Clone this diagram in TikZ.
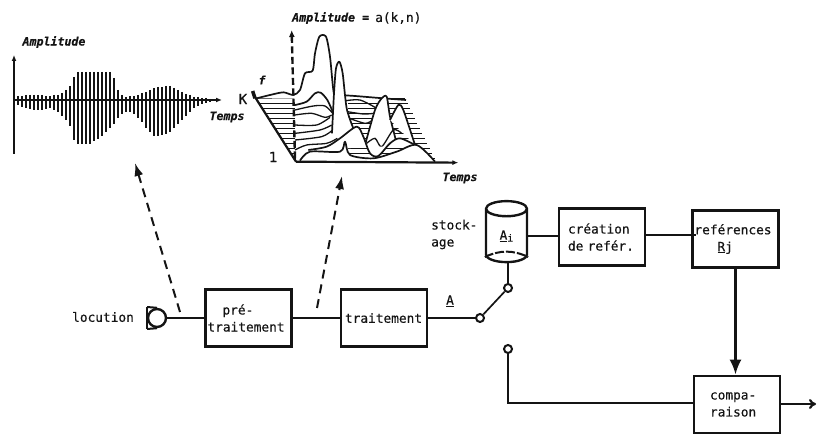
\documentclass[tikz,border=0pt]{standalone}
\usepackage{fontspec}
\setmainfont{DejaVu Sans Mono}[FakeBold=0.4]
\usetikzlibrary{shapes.geometric,arrows.meta}
\tikzset{
  wire/.style={line width=2.2pt,draw=ink},
  blk/.style={draw=ink,line width=2.6pt,inner xsep=0pt,inner ysep=0pt,text width=#1,minimum height=57pt,align=left,text=ink,font=\fontsize{12.8}{17}\selectfont},
  blk/.default=86pt,
  lab/.style={text=ink,inner sep=0pt,font=\fontsize{12.8}{17}\selectfont,align=left},
  tag/.style={text=ink,inner sep=0pt,font=\fontsize{11.6}{13}\selectfont\bfseries\itshape},
  contact/.style={circle,draw=ink,fill=white,line width=2pt,inner sep=0pt,minimum size=8pt},
  dasharrow/.style={draw=ink,line width=2pt,dash pattern=on 9pt off 6pt,-{Latex[length=13pt,width=9pt]}},
  axisline/.style={draw=ink,line width=1.8pt,-{Latex[length=6pt,width=5pt]}},
  prof/.style={draw=ink,line width=1.7pt,fill=white,line join=round},
  rowline/.style={draw=ink,line width=1.3pt},
  hatch/.style={draw=ink,line width=1.2pt}
}
\definecolor{ink}{gray}{0.08}
\begin{document}
\begin{tikzpicture}[x=1pt,y=-1pt]
\useasboundingbox (0,0) rectangle (817,435);
% ---- waveform
\draw[axisline] (14,154) -- (14,55);
\draw[axisline] (14,100) -- (222,100);
\foreach \x/\t/\b in {18/96/105,22/96/107,26/95/108,30/95/109,34/95/110,38/95/110,42/95/110,46/96/109,50/96/108,54/95/110,58/95/112,62/93/116,66/90/120,70/86/126,74/77/140,78/72/144,82/72/144,86/72/144,90/72/144,94/72/141,98/72/139,102/72/136,106/72/132,110/72/128,114/78/124,118/90/118,122/95/114,126/97/112,130/96/112,134/96/114,138/95/118,142/93/122,146/92/128,150/90/132,154/88/136,158/87/136,162/87/135,166/86/134,170/86/132,174/88/128,178/90/124,182/92/120,186/94/116,190/95/112,194/97/108,198/97/106,202/98/104,206/98/103,210/99/102}
  \draw[draw=ink,line width=1.8pt] (\x,\t) -- (\x,\b);
% ---- 3D plot (coordinates in thirds of a pixel)
\begin{scope}[shift={(250,30)},scale=1/3]
  \foreach \yy in {205,220,...,385} {
    \pgfmathsetmacro{\xl}{8+(\yy-190)*0.644}
    \pgfmathsetmacro{\xr}{468+(\yy-210)*0.49}
    \draw[hatch] (\xl,\yy) -- (135,\yy);
    \draw[hatch] (295,\yy) -- (\xr,\yy);
  }
  \draw[prof] plot[smooth,tension=.45] coordinates {(20,205)(60,195)(100,187)(130,195)(150,180)(165,130)(188,122)(195,70)(208,20)(228,20)(240,80)(250,180)(262,240)(280,200)(300,197)(400,205)(468,210)};
  \draw[prof] plot[smooth,tension=.5] coordinates {(135,225)(170,215)(195,190)(212,188)(232,210)(248,245)};
  \draw[rowline] plot[smooth,tension=.5] coordinates {(135,240)(190,228)(225,228)(248,250)};
  \draw[rowline] plot[smooth,tension=.5] coordinates {(135,255)(185,250)(225,262)(245,255)};
  \draw[rowline] plot[smooth,tension=.5] coordinates {(135,285)(200,285)(240,262)};
  \draw[rowline] plot[smooth,tension=.5] coordinates {(135,310)(210,300)(245,285)};
  \draw[rowline] plot[smooth,tension=.5] coordinates {(135,330)(215,320)(248,300)};
  \draw[prof] plot[smooth,tension=.45] coordinates {(246,310)(252,190)(258,115)(268,95)(278,130)(290,235)(310,295)};
  \draw[rowline] plot[smooth,tension=.5] coordinates {(288,212)(330,210)(375,232)};
  \draw[rowline] plot[smooth,tension=.5] coordinates {(292,245)(340,252)(372,250)};
  \draw[rowline] plot[smooth,tension=.5] coordinates {(298,265)(345,280)(365,272)};
  \draw[prof] plot[smooth,tension=.45] coordinates {(345,345)(375,240)(395,205)(410,200)(420,260)(440,340)};
  \draw[prof] plot[smooth,tension=.45] coordinates {(420,270)(445,225)(460,240)(495,345)};
  \draw[rowline] plot[smooth,tension=.5] coordinates {(350,340)(375,325)(395,350)(430,300)(455,310)};
  \draw[prof] plot[smooth,tension=.5] coordinates {(175,360)(230,350)(270,325)(320,290)(340,320)(360,370)(385,378)(420,340)(450,325)(495,345)};
  \draw[rowline] plot[smooth,tension=.5] coordinates {(135,360)(170,345)(230,340)(262,325)};
  \draw[prof] plot[smooth,tension=.5] coordinates {(150,392)(180,365)(270,365)(285,335)(300,375)(370,385)(440,365)(500,345)(555,395)};
  \draw[draw=ink,line width=2.2pt] (8,190) -- (138,395);
  \draw[draw=ink,line width=3.5pt] (8,183) -- (15,205);
  \draw[axisline,line width=2.2pt] (138,395) -- (625,398);
  \draw[draw=ink,line width=2.4pt,dash pattern=on 7pt off 3.5pt,-{Latex[length=7pt,width=6pt]}] (135,385) -- (125,0);
\end{scope}
\node[tag] (lamp) at (54,42) {Amplitude};
\node[tag] (ltemps) at (227,117) {Temps};
\node[tag,anchor=west] (lamp2) at (292,18) {Amplitude =};
\node[lab,anchor=west] (lak) at (375,18) {a(k,n)};
\node[tag] (lf) at (262,80) {f};
\node[lab,font=\fontsize{14}{15}\selectfont] (lK) at (243,99) {K};
\node[lab,font=\fontsize{14}{15}\selectfont] (l1) at (273,157) {1};
\node[tag] (ltemps2) at (460,178) {Temps};
% ---- blocks
\node[blk] (pre) at (248.5,318) {\hspace*{17pt}pré-\\\hspace*{2pt}traitement};
\node[blk] (trt) at (384,318) {\hspace*{4pt}traitement};
\node[blk] (cre) at (602,237) {\hspace*{9pt}création\\\hspace*{9pt}de refér.};
\node[blk] (ref) at (735.5,239) {\hspace*{2pt}reférences\\\hspace*{25pt}\underline{R}j};
\node[blk] (cmp) at (737,404.5) {\hspace*{16pt}compa-\\\hspace*{16pt}raison};
\node[cylinder,shape border rotate=90,aspect=1.1,draw=ink,line width=2.4pt,minimum width=41pt,minimum height=61pt,inner sep=0pt,text=ink,font=\fontsize{12.8}{15}\selectfont] (cyl) at (506.5,236) {\underline{A}\raisebox{-2pt}{\fontsize{10}{12}\selectfont i}};
\draw[draw=ink,line width=2pt,dash pattern=on 9pt off 2pt] ([yshift=-21pt]cyl.west) to[out=25,in=155] ([yshift=-21pt]cyl.east);
% ---- labels
\node[lab,anchor=west] (lloc) at (72,317) {locution};
\node[lab,anchor=west] (lsto) at (431,234.5) {stock-\\age};
\node[lab] (la) at (450,301) {\underline{A}};
% ---- microphone
\node[circle,draw=ink,line width=2.4pt,inner sep=0pt,minimum size=18pt] (mic) at (157,318) {};
\coordinate (mt) at (147,307); \coordinate (mb) at (147,329);
\draw[draw=ink,line width=2.6pt] (mt) -- (mb);
\draw[draw=ink,line width=2pt] (mt) -- (mic.north); \draw[draw=ink,line width=2pt] (mb) -- (mic.south);
% ---- switch
\node[contact] (pole) at (480,318) {};
\node[contact] (up) at (508,288) {};
\node[contact] (low) at (508,349) {};
\coordinate (bend) at (508,403);
\coordinate (out) at (816,404);
\coordinate (tipr) at (696,235);
\coordinate (d1s) at (180,312); \coordinate (d1e) at (135,163);
\coordinate (d2s) at (317,308); \coordinate (d2e) at (342,176);
% ---- connectors
\draw[wire] (mic) -- (pre);
\draw[wire] (pre) -- (trt);
\draw[wire] (trt.east) -- (pole);
\draw[wire,line width=1.7pt] (pole) -- (up);
\draw[wire] (up) -- (up |- cyl.south);
\draw[wire] (cyl.east) -- (cyl.east -| cre.west);
\draw[wire] (cre.east |- tipr) -- (tipr);
\draw[wire,line width=2.8pt,-{Latex[length=15pt,width=12pt]}] (ref) -- (ref |- cmp.north);
\draw[wire] (low) -- (bend) -- (cmp.west |- bend);
\draw[wire,-{To[length=7pt,width=10pt]}] (cmp.east |- out) -- (out);
\draw[dasharrow] (d1s) -- (d1e);
\draw[dasharrow] (d2s) -- (d2e);
\end{tikzpicture}
\end{document}
